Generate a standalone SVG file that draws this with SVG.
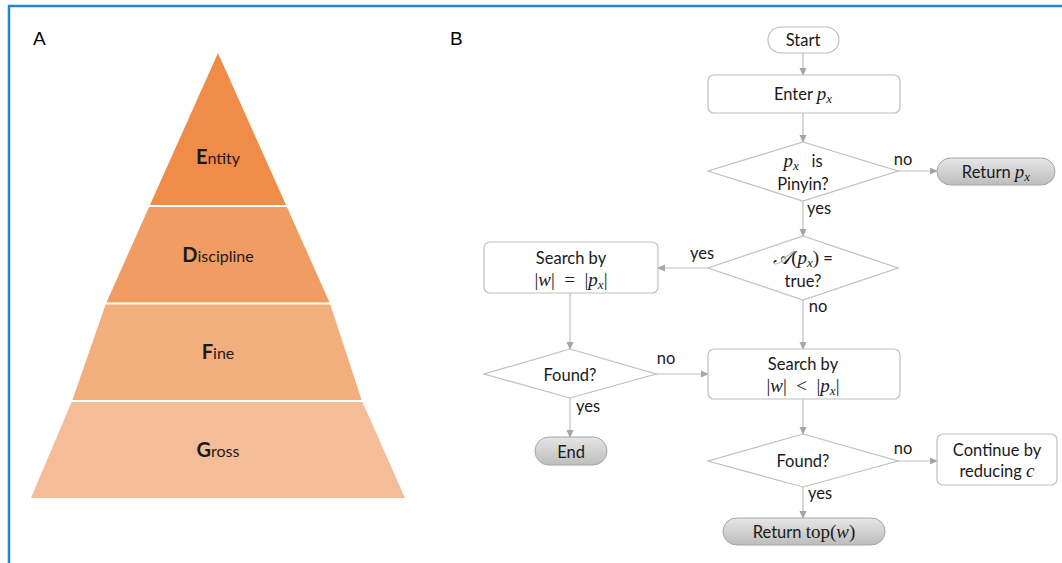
<svg xmlns="http://www.w3.org/2000/svg" width="1062" height="563" viewBox="0 0 1062 563">
<style>
.lbl{font-family:"Liberation Sans",Arial,sans-serif;font-size:19px;fill:#000}
.pt{font-family:Lato,"Open Sans",sans-serif;font-size:16px;fill:#1a1a1a;text-anchor:middle}
.pt .b{font-weight:bold;font-size:20px}
.t{font-family:Lato,"Open Sans",sans-serif;font-size:16.5px;fill:#1a1a1a;text-anchor:middle}
.m{font-family:"Liberation Serif","DejaVu Serif",serif;font-style:italic;font-size:19px}
.ms{font-family:"Liberation Serif","DejaVu Serif",serif;font-style:italic;font-size:13px}
.mr{font-family:"Liberation Serif","DejaVu Serif",serif;font-size:19px}
.box{fill:#fff;stroke:#BFBFBF;stroke-width:1.2}
.gray{fill:url(#g);stroke:#A6A6A6;stroke-width:1}
.ln{fill:none;stroke:#BFBFBF;stroke-width:1.2;marker-end:url(#ah)}
.sep{stroke:#fff;stroke-width:2}
</style>
<defs>
<marker id="ah" markerWidth="8" markerHeight="8" refX="7" refY="4" orient="auto" markerUnits="userSpaceOnUse">
<path d="M0,0.5 L8,4 L0,7.5 z" fill="#A6A6A6"/>
</marker>
<linearGradient id="g" x1="0" y1="0" x2="0" y2="1">
<stop offset="0" stop-color="#E6E6E6"/>
<stop offset="1" stop-color="#BDBDBD"/>
</linearGradient>
</defs>
<rect width="1062" height="563" fill="#fff"/>
<path d="M9,563 V6 H1062" fill="none" stroke="#1E88C8" stroke-width="2.5"/>
<text class="lbl" x="33" y="45">A</text>
<text class="lbl" x="450" y="45">B</text>

<g id="pyramid">
<g id="entity">
<polygon points="218,53 286.5,206 149.5,206" fill="#EF8C47"/>
<text class="pt" x="218" y="164"><tspan class="b">E</tspan>ntity</text>
</g>
<g id="discipline">
<polygon points="149.5,206 286.5,206 330,303.5 106,303.5" fill="#F19C62"/>
<text class="pt" x="218" y="262"><tspan class="b">D</tspan>iscipline</text>
</g>
<g id="fine">
<polygon points="106,303.5 330,303.5 362,401 72,401" fill="#F3AE7E"/>
<text class="pt" x="218" y="359"><tspan class="b">F</tspan>ine</text>
</g>
<g id="gross">
<polygon points="72,401 362,401 405,498 31,498" fill="#F5BD97"/>
<text class="pt" x="218" y="457"><tspan class="b">G</tspan>ross</text>
</g>
<line class="sep" x1="148" y1="206" x2="288" y2="206"/>
<line class="sep" x1="104" y1="303.5" x2="332" y2="303.5"/>
<line class="sep" x1="70" y1="401" x2="364" y2="401"/>
</g>

<g id="connectors">
<line class="ln" x1="803" y1="53" x2="803" y2="75"/>
<line class="ln" x1="803" y1="113" x2="803" y2="142"/>
<line class="ln" x1="898" y1="171" x2="937" y2="171"/>
<line class="ln" x1="803" y1="201" x2="803" y2="236"/>
<line class="ln" x1="708" y1="268" x2="658" y2="268"/>
<line class="ln" x1="803" y1="300" x2="803" y2="349"/>
<line class="ln" x1="570" y1="293" x2="570" y2="349"/>
<line class="ln" x1="656" y1="374" x2="708" y2="374"/>
<line class="ln" x1="570" y1="398" x2="570" y2="437"/>
<line class="ln" x1="803" y1="399" x2="803" y2="434"/>
<line class="ln" x1="898" y1="461" x2="937" y2="461"/>
<line class="ln" x1="803" y1="487" x2="803" y2="518"/>
<text class="t" x="903" y="165">no</text>
<text class="t" x="819" y="214">yes</text>
<text class="t" x="702" y="259">yes</text>
<text class="t" x="818" y="312">no</text>
<text class="t" x="666" y="364">no</text>
<text class="t" x="588" y="412">yes</text>
<text class="t" x="903" y="454">no</text>
<text class="t" x="820" y="499">yes</text>
</g>

<g id="start">
<rect class="box" x="768" y="27" width="71" height="26" rx="13"/>
<text class="t" x="803" y="46">Start</text>
</g>
<g id="enter">
<rect class="box" x="708" y="75" width="192" height="38" rx="6"/>
<text class="t" x="803" y="100">Enter <tspan class="m">p</tspan><tspan class="ms" dy="3">x</tspan></text>
</g>
<g id="pinyin">
<polygon class="box" points="803,142 898,171 803,201 708,171"/>
<text class="t" x="803" y="167"><tspan class="m">p</tspan><tspan class="ms" dy="3">x</tspan><tspan dy="-3" xml:space="preserve">   is</tspan></text>
<text class="t" x="803" y="190">Pinyin?</text>
</g>
<g id="return-px">
<rect class="gray" x="937" y="158" width="118" height="27" rx="13.5"/>
<text class="t" x="996" y="178">Return <tspan class="m">p</tspan><tspan class="ms" dy="3">x</tspan></text>
</g>
<g id="atrue">
<polygon class="box" points="803,236 898,268 803,300 708,268"/>
<text class="t" x="803" y="264"><tspan class="m" font-size="21">𝒜</tspan><tspan class="mr">(</tspan><tspan class="m">p</tspan><tspan class="ms" dy="3">x</tspan><tspan class="mr" dy="-3">)</tspan> =</text>
<text class="t" x="803" y="287">true?</text>
</g>
<g id="search-eq">
<rect class="box" x="484" y="242" width="174" height="51" rx="6"/>
<text class="t" x="571" y="264">Search by</text>
<text class="t" x="571" y="286"><tspan class="mr">|</tspan><tspan class="m">w</tspan><tspan class="mr" xml:space="preserve">|  =  |</tspan><tspan class="m">p</tspan><tspan class="ms" dy="3">x</tspan><tspan class="mr" dy="-3">|</tspan></text>
</g>
<g id="search-lt">
<rect class="box" x="708" y="349" width="192" height="50" rx="6"/>
<text class="t" x="803" y="370">Search by</text>
<text class="t" x="803" y="392"><tspan class="mr">|</tspan><tspan class="m">w</tspan><tspan class="mr" xml:space="preserve">|  &lt;  |</tspan><tspan class="m">p</tspan><tspan class="ms" dy="3">x</tspan><tspan class="mr" dy="-3">|</tspan></text>
</g>
<g id="found1">
<polygon class="box" points="570,349 656,374 570,398 484,374"/>
<text class="t" x="570" y="381">Found?</text>
</g>
<g id="end">
<rect class="gray" x="535" y="437" width="72" height="28" rx="14"/>
<text class="t" x="571" y="458">End</text>
</g>
<g id="found2">
<polygon class="box" points="803,434 898,461 803,487 708,461"/>
<text class="t" x="803" y="467">Found?</text>
</g>
<g id="continue">
<rect class="box" x="937" y="434" width="120" height="51" rx="6"/>
<text class="t" x="997" y="456">Continue by</text>
<text class="t" x="997" y="477">reducing <tspan class="m">c</tspan></text>
</g>
<g id="return-top">
<rect class="gray" x="723" y="518" width="162" height="27" rx="13.5"/>
<text class="t" x="804" y="538">Return <tspan class="mr">top(</tspan><tspan class="m">w</tspan><tspan class="mr">)</tspan></text>
</g>
</svg>
